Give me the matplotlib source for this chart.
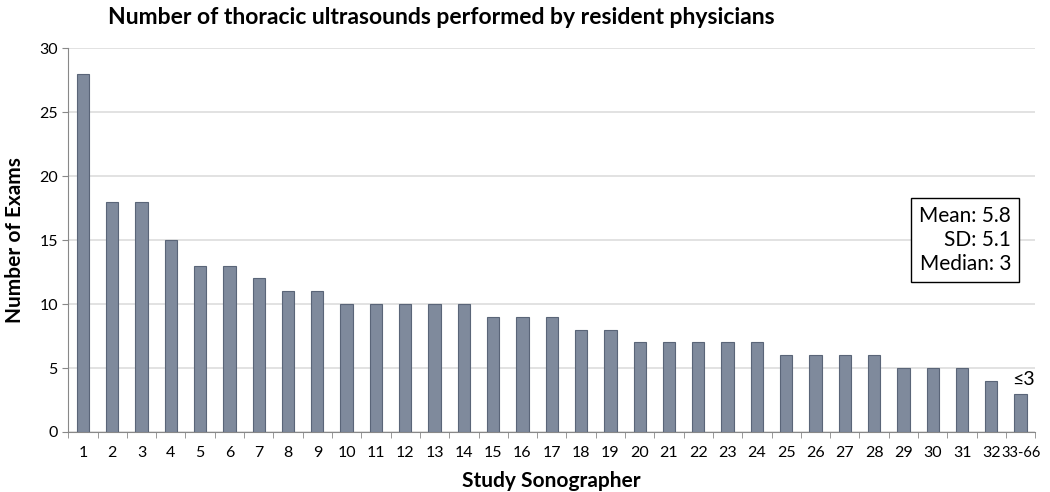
import matplotlib
matplotlib.use('Agg')
import matplotlib.pyplot as plt
import numpy as np

plt.rcParams['font.family'] = 'Lato'

sonographers = [str(i) for i in range(1, 33)] + ['33-66']
exams = [28, 18, 18, 15, 13, 13, 12, 11, 11, 10, 10, 10, 10, 10, 9, 9, 9,
         8, 8, 7, 7, 7, 7, 7, 6, 6, 6, 6, 5, 5, 5, 4, 3]
stats_text = 'Mean: 5.8\nSD: 5.1\nMedian: 3'

fig = plt.figure(figsize=(10.5, 4.92), dpi=100)
ax = fig.add_axes([0.065, 0.122, 0.921, 0.78])

x = np.arange(len(exams))
ax.bar(x, exams, width=0.42, color='#7f8a9c', edgecolor='#5a6578', linewidth=0.8, zorder=3)

ax.set_xlim(-0.5, len(exams) - 0.5)
ax.set_ylim(0, 30)
ax.set_yticks(range(0, 31, 5))
ax.yaxis.grid(True, color='#dddddd', linewidth=1.2, zorder=0)

ax.set_xticks(x)
ax.set_xticklabels(sonographers, fontsize=11.5)
ax.get_xticklabels()[-1].set_fontsize(10.5)
ax.set_xticks(np.arange(-0.5, len(exams), 1), minor=True)
ax.tick_params(axis='x', which='major', length=0, pad=10)
ax.tick_params(axis='x', which='minor', length=4, color='#888888')
ax.tick_params(axis='y', length=4, color='#888888', labelsize=11.5)

for side in ['top', 'right']:
    ax.spines[side].set_visible(False)
ax.spines['left'].set_color('#888888')
ax.spines['bottom'].set_color('#888888')

ax.text(x[-1] + 0.1, exams[-1] + 0.4, '≤3', ha='center', va='bottom', fontsize=14)

ax.text(0.975, 0.5, stats_text, transform=ax.transAxes, ha='right', va='center',
        fontsize=15, linespacing=1.25,
        bbox=dict(boxstyle='square,pad=0.4', facecolor='white', edgecolor='black', linewidth=1))

ax.set_ylabel('Number of Exams', fontsize=15, fontweight='bold', labelpad=10)
ax.set_xlabel('Study Sonographer', fontsize=15, fontweight='bold', labelpad=8)
fig.text(0.42, 0.965, 'Number of thoracic ultrasounds performed by resident physicians',
         ha='center', va='center', fontsize=16.5, fontweight='bold')

fig.savefig('out.png', dpi=100)
